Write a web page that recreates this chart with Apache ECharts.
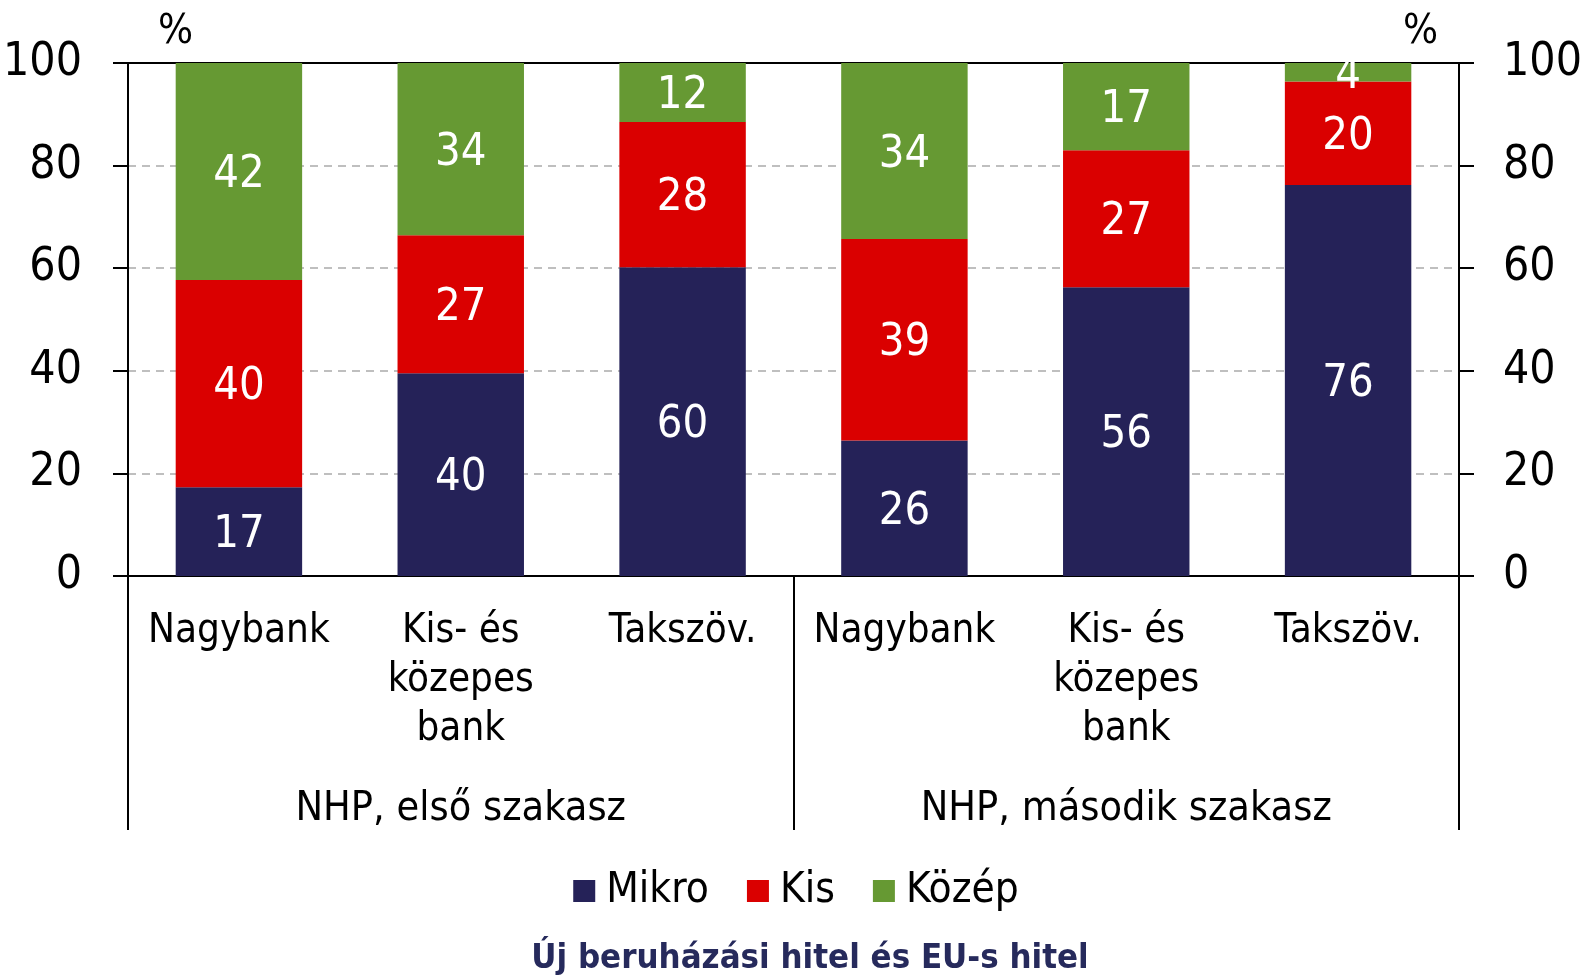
<!DOCTYPE html>
<html>
<head>
<meta charset="utf-8">
<script src="https://cdn.jsdelivr.net/npm/echarts@6/dist/echarts.min.js"></script>
<style>
  html, body { margin: 0; padding: 0; background: #fff; }
  #chart { width: 1592px; height: 976px; }
</style>
</head>
<body>
<div id="chart"></div>
<script>
// adatok
var categories = ['Nagybank', 'Kis- és\nközepes\nbank', 'Takszöv.', 'Nagybank', 'Kis- és\nközepes\nbank', 'Takszöv.'];
var groups = ['NHP, első szakasz', 'NHP, második szakasz'];
var mikro = [17.3, 39.5, 60.2, 26.4, 56.3, 76.2];
var kis = [40.4, 26.9, 28.3, 39.3, 26.7, 20.2];
var kozep = [42.3, 33.6, 11.5, 34.3, 17.0, 3.6];
var yTicks = [0, 20, 40, 60, 80, 100];

var FONT = '"DejaVu Sans Condensed", "DejaVu Sans", sans-serif';

var chartDom = document.getElementById('chart');
var chart = echarts.init(chartDom);

function barSeries(name, data, color) {
    return {
        name: name,
        type: 'bar',
        stack: 'total',
        data: data,
        barWidth: '57%',
        itemStyle: { color: color },
        label: {
            show: true,
            position: 'inside',
            offset: [0, 4],
            color: '#fff',
            fontFamily: FONT,
            fontSize: 45,
            formatter: function (p) { return Math.round(p.value); }
        }
    };
}

var yAxisBase = {
    type: 'value',
    min: yTicks[0],
    max: yTicks[yTicks.length - 1],
    interval: 20,
    axisLine: { show: true, lineStyle: { color: '#000', width: 2 } },
    axisTick: { show: true, length: 15, lineStyle: { color: '#000', width: 2 } },
    axisLabel: { color: '#000', fontFamily: FONT, fontSize: 46, margin: 46 },
    splitLine: { show: false }
};

var option = {
    animation: false,
    title: {
        text: 'Új beruházási hitel és EU-s hitel',
        left: 805,
        textAlign: 'center',
        top: 937,
        textStyle: { color: '#262a5c', fontFamily: FONT, fontSize: 34.5, fontWeight: 'bold' }
    },
    legend: {
        data: ['Mikro', 'Kis', 'Közép'],
        left: 'center',
        top: 865,
        itemWidth: 22,
        itemHeight: 22,
        itemGap: 38,
        icon: 'rect',
        textStyle: { color: '#000', fontFamily: FONT, fontSize: 42, padding: [0, 0, 0, 6] }
    },
    grid: { left: 128, right: 133, top: 63, bottom: 400 },
    xAxis: [
        {
            type: 'category',
            data: categories,
            position: 'bottom',
            axisLine: { show: true, lineStyle: { color: '#000', width: 2 } },
            axisTick: { show: false },
            axisLabel: { color: '#000', fontFamily: FONT, fontSize: 40, lineHeight: 49, margin: 31, interval: 0 }
        },
        {
            type: 'category',
            data: groups,
            position: 'bottom',
            axisLine: { show: false },
            axisTick: { show: true, length: 254, lineStyle: { color: '#000', width: 2 } },
            axisLabel: { color: '#000', fontFamily: FONT, fontSize: 41, lineHeight: 49, margin: 209, interval: 0 }
        },
        {
            type: 'category',
            data: groups,
            position: 'top',
            axisLine: { show: true, lineStyle: { color: '#000', width: 2 } },
            axisTick: { show: false },
            axisLabel: { show: false }
        }
    ],
    yAxis: [
        Object.assign({}, yAxisBase, {
            position: 'left',
            splitLine: { show: true, lineStyle: { color: '#aaaaaa', type: [8, 6], width: 1.5 } }
        }),
        Object.assign({}, yAxisBase, {
            position: 'right',
            axisLabel: { color: '#000', fontFamily: FONT, fontSize: 46, margin: 44, align: 'left' }
        })
    ],
    graphic: [
        { type: 'text', left: 158, top: 12, style: { text: '%', font: '41px ' + FONT, fill: '#000' } },
        { type: 'text', left: 1403, top: 12, style: { text: '%', font: '41px ' + FONT, fill: '#000' } }
    ],
    series: [
        barSeries('Mikro', mikro, '#252258'),
        barSeries('Kis', kis, '#da0000'),
        barSeries('Közép', kozep, '#669933')
    ]
};

chart.setOption(option);
</script>
</body>
</html>
